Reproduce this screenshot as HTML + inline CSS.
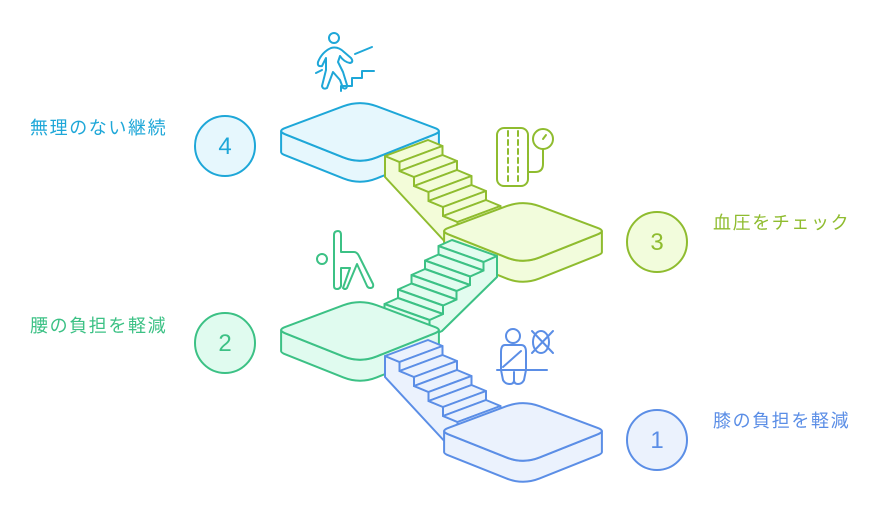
<!DOCTYPE html>
<html><head><meta charset="utf-8">
<style>
html,body{margin:0;padding:0;background:#fff;}
body{width:880px;height:510px;overflow:hidden;}
svg{display:block;}
text{font-family:"Liberation Sans","Noto Sans CJK JP",sans-serif;}
</style></head>
<body>
<svg id="s" width="880" height="510" viewBox="0 0 880 510" xmlns="http://www.w3.org/2000/svg">
<g id="dia" stroke-linejoin="round" stroke-linecap="round" stroke-width="2"></g>
<g fill="none" stroke-width="2" stroke-linecap="round" stroke-linejoin="round">
  <g stroke="#1ea7d8">
    <circle cx="334" cy="38" r="5"/>
    <path d="M331 48 Q322 52 318 62 Q317 67 322 66 L326 58 L326 70 L322 86 Q323 90 327 88 L333 72 L340 80 L343 88 Q347 90 347 85 L343 72 L338 62 L340 56 Q344 62 350 63 Q354 62 351 58 L344 52 Q338 46 331 48 Z"/>
    <path d="M355 54 L372 47"/>
    <path d="M316 73 L322 70"/>
    <path d="M341 91 L341 86 L352 86 L352 78 L362 78 L362 71 L374 71"/>
  </g>
  <g stroke="#8fbc2f">
    <rect x="497" y="128" width="31" height="58" rx="7"/>
    <path d="M508 131 V184" stroke-dasharray="5 4"/>
    <path d="M518 131 V184" stroke-dasharray="5 4"/>
    <circle cx="543" cy="139" r="10"/>
    <path d="M543 149 V164 Q543 172 535 172 H528"/>
    <path d="M543 139 L546 135"/>
  </g>
  <g stroke="#3cc185">
    <circle cx="322" cy="259" r="5"/>
    <path d="M334 235 Q334 231 338 231 Q341 231 341 235 L341 252 L354 252 Q357 252 359 256 L373 284 Q374 288 370 288 Q368 288 367 286 L357 264 L347 288 Q345 290 343 288 L350 268 L341 268 L341 286 Q340 289 337 289 Q334 289 334 286 Z"/>
  </g>
  <g stroke="#5b8ee6">
    <circle cx="513" cy="336" r="7"/>
    <path d="M505 345 H521 Q526 345 526 352 V370 L524 380 Q522 384 518 384 Q514 384 514 380 Q514 384 510 384 Q505 384 503 380 L501 370 V352 Q501 345 505 345 Z"/>
    <path d="M514 372 V380"/>
    <path d="M503 367 L521 351"/>
    <path d="M497 370 H547"/>
    <ellipse cx="541" cy="342" rx="8" ry="11"/>
    <path d="M532 331 L553 353 M532 353 L553 331"/>
  </g>
</g>
<g stroke-width="2">
  <circle cx="225" cy="146" r="30" fill="#e6f7fd" stroke="#1ea7d8"/>
  <circle cx="225" cy="343" r="30" fill="#e0fbef" stroke="#3cc185"/>
  <circle cx="657" cy="242" r="30" fill="#f2fcdc" stroke="#8fbc2f"/>
  <circle cx="657" cy="440" r="30" fill="#ebf2fd" stroke="#5b8ee6"/>
</g>
<g font-size="24" text-anchor="middle">
  <text x="225" y="154" fill="#1ea7d8">4</text>
  <text x="225" y="351" fill="#3cc185">2</text>
  <text x="657" y="250" fill="#8fbc2f">3</text>
  <text x="657" y="448" fill="#5b8ee6">1</text>
</g>
<g font-size="18" letter-spacing="1.6">
  <text x="30" y="134" fill="#1ea7d8">無理のない継続</text>
  <text x="30" y="332" fill="#3cc185">腰の負担を軽減</text>
  <text x="713" y="229" fill="#8fbc2f">血圧をチェック</text>
  <text x="713" y="427" fill="#5b8ee6">膝の負担を軽減</text>
</g>
</svg>
<script>
(function(){
var g=document.getElementById('dia');var NS='http://www.w3.org/2000/svg';
function el(d,stroke,fill){var p=document.createElementNS(NS,'path');p.setAttribute('d',d);p.setAttribute('stroke',stroke);p.setAttribute('fill',fill);g.appendChild(p);}
function lerp(a,b,f){return [a[0]+(b[0]-a[0])*f,a[1]+(b[1]-a[1])*f];}
function add(a,b){return [a[0]+b[0],a[1]+b[1]];}
function mid(a,b){return [(a[0]+b[0])/2,(a[1]+b[1])/2];}
function p(a){return a[0].toFixed(1)+' '+a[1].toFixed(1);}
function poly(pts,stroke,fill){el('M'+pts.map(p).join(' L')+' Z',stroke,fill);}
function plat(cx,cy,stroke,fill){
 var t=21,L=[cx-83,cy],T=[cx,cy-31],R=[cx+83,cy],B=[cx,cy+33],f=0.1,fv=0.2;
 var aLT=lerp(L,T,f),aTL=lerp(T,L,fv),aTR=lerp(T,R,fv),aRT=lerp(R,T,f),aRB=lerp(R,B,f),aBR=lerp(B,R,fv),aBL=lerp(B,L,fv),aLB=lerp(L,B,f);
 var ML=[0.25*aLT[0]+0.5*L[0]+0.25*aLB[0],0.25*aLT[1]+0.5*L[1]+0.25*aLB[1]];
 var MR=[0.25*aRT[0]+0.5*R[0]+0.25*aRB[0],0.25*aRT[1]+0.5*R[1]+0.25*aRB[1]];
 var c1=mid(L,aLB),c2=mid(R,aRB),D=[0,t];
 var side='M'+p(ML)+' Q'+p(c1)+' '+p(aLB)+' L'+p(aBL)+' Q'+p(B)+' '+p(aBR)+' L'+p(aRB)+' Q'+p(c2)+' '+p(MR)+
  ' L'+p(add(MR,D))+' Q'+p(add(c2,D))+' '+p(add(aRB,D))+' L'+p(add(aBR,D))+' Q'+p(add(B,D))+' '+p(add(aBL,D))+' L'+p(add(aLB,D))+' Q'+p(add(c1,D))+' '+p(add(ML,D))+' Z';
 el(side,stroke,fill);
 var top='M'+p(aLT)+' L'+p(aTL)+' Q'+p(T)+' '+p(aTR)+' L'+p(aRT)+' Q'+p(R)+' '+p(aRB)+' L'+p(aBR)+' Q'+p(B)+' '+p(aBL)+' L'+p(aLB)+' Q'+p(L)+' '+p(aLT)+' Z';
 el(top,stroke,fill);
}
function stairs(P0,w,d,h,n,faceRight,extra,stroke,fill){
 var P=P0,prof=[];
 for(var k=0;k<n;k++){var a=add(P,d),b=add(a,[0,h]);prof.push(P,a);P=b;}
 prof.push(P);
 var face;
 if(!faceRight){face=prof.slice().concat(extra);}
 else{face=prof.map(function(q){return add(q,w);}).concat(extra);}
 poly(face,stroke,fill);
 P=P0;
 for(var k=0;k<n;k++){
  var a=add(P,d),b=add(a,[0,h]);
  poly([P,add(P,w),add(a,w),a],stroke,fill);
  poly([a,add(a,w),add(b,w),b],stroke,fill);
  P=b;
 }
}
plat(360,131,'#1ea7d8','#e6f7fd');
stairs([385,156],[43,-16],[14.5,6],9,6,false,[[448,245],[385,177]],'#8fbc2f','#f3fcd9');
plat(523,231,'#8fbc2f','#f2fcdc');
stairs([452,240],[45,16],[-13.5,6],8.5,6,true,[[442,331],[497,277]],'#3cc185','#e2fcef');
plat(360,330,'#3cc185','#e0fbef');
stairs([385,356],[43,-16],[14.5,6],9,6,false,[[448,445],[385,377]],'#5b8ee6','#ebf2fd');
plat(523,431,'#5b8ee6','#ebf2fd');
})();
</script>
</body></html>
